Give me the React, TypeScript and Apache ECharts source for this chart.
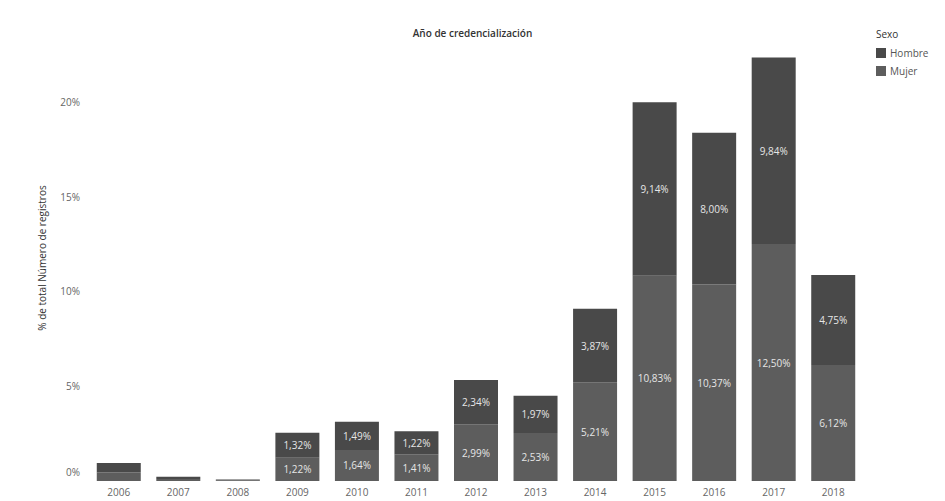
import React, { useEffect, useRef } from "react";
import * as echarts from "echarts";

const years = ["2006", "2007", "2008", "2009", "2010", "2011", "2012", "2013", "2014", "2015", "2016", "2017", "2018"];
const mujer = [0.45, 0.1, 0.04, 1.22, 1.64, 1.41, 2.99, 2.53, 5.21, 10.83, 10.37, 12.5, 6.12];
const hombre = [0.5, 0.12, 0.04, 1.32, 1.49, 1.22, 2.34, 1.97, 3.87, 9.14, 8.0, 9.84, 4.75];
const yTicks = [0, 5, 10, 15, 20];

const FONT = "Open Sans";

function fmt(v: number): string {
  return v.toFixed(2).replace(".", ",") + "%";
}

export default function App() {
  const ref = useRef<HTMLDivElement>(null);
  useEffect(() => {
    document.body.style.margin = "0";
    const chart = echarts.init(ref.current!, null, { renderer: "svg" });
    const labelCfg = {
      show: true,
      position: "inside" as const,
      color: "#e6e6e6",
      fontFamily: FONT,
      fontSize: 10,
      formatter: (p: any) => (p.value >= 1 ? fmt(p.value) : ""),
    };
    chart.setOption({
      animation: false,
      backgroundColor: "#ffffff",
      textStyle: { fontFamily: FONT },
      title: [
        {
          text: "Año de credencialización",
          left: "center",
          top: 23,
          textStyle: { fontFamily: FONT, fontSize: 10, fontWeight: 600, color: "#333" },
        },
        {
          text: "Sexo",
          left: 871,
          top: 24,
          textStyle: { fontFamily: FONT, fontSize: 10, fontWeight: "normal", color: "#333" },
        },
      ],
      legend: {
        orient: "vertical",
        left: 871,
        top: 43,
        icon: "rect",
        itemWidth: 10,
        itemHeight: 10,
        itemGap: 8,
        textStyle: { fontFamily: FONT, fontSize: 10, color: "#555", padding: [0, 0, 0, -1] },
        data: ["Hombre", "Mujer"],
      },
      grid: { left: 89, right: 82, top: 7, bottom: 20, containLabel: false },
      xAxis: {
        type: "category",
        data: years,
        axisLine: { show: false },
        axisTick: { show: false },
        axisLabel: { color: "#666", fontFamily: FONT, fontSize: 10, margin: 6 },
      },
      yAxis: {
        type: "value",
        min: 0,
        max: 25,
        interval: 5,
        name: "% de total Número de registros",
        nameLocation: "middle",
        nameGap: 42,
        nameTextStyle: { fontFamily: FONT, fontSize: 10, color: "#333", padding: [0, 28, 0, 0] },
        splitLine: { show: false },
        axisLine: { show: false },
        axisTick: { show: false },
        axisLabel: {
          color: "#666",
          fontFamily: FONT,
          fontSize: 10,
          margin: 9,
          formatter: (v: number) => {
            if (!yTicks.includes(v)) return "";
            if (v === 0) return "{z|0%}";
            return v + "%";
          },
          rich: { z: { color: "#666", fontFamily: FONT, fontSize: 10, padding: [0, 0, 18, 0] } },
        },
      },
      series: [
        {
          name: "Mujer",
          type: "bar",
          stack: "total",
          data: mujer,
          barWidth: 44,
          itemStyle: { color: "#5d5d5d" },
          label: labelCfg,
        },
        {
          name: "Hombre",
          type: "bar",
          stack: "total",
          data: hombre,
          barWidth: 44,
          itemStyle: { color: "#494949" },
          label: labelCfg,
        },
      ],
    });
    return () => chart.dispose();
  }, []);
  return <div ref={ref} style={{ width: 945, height: 501, position: "absolute", left: 0, top: 0 }} />;
}
